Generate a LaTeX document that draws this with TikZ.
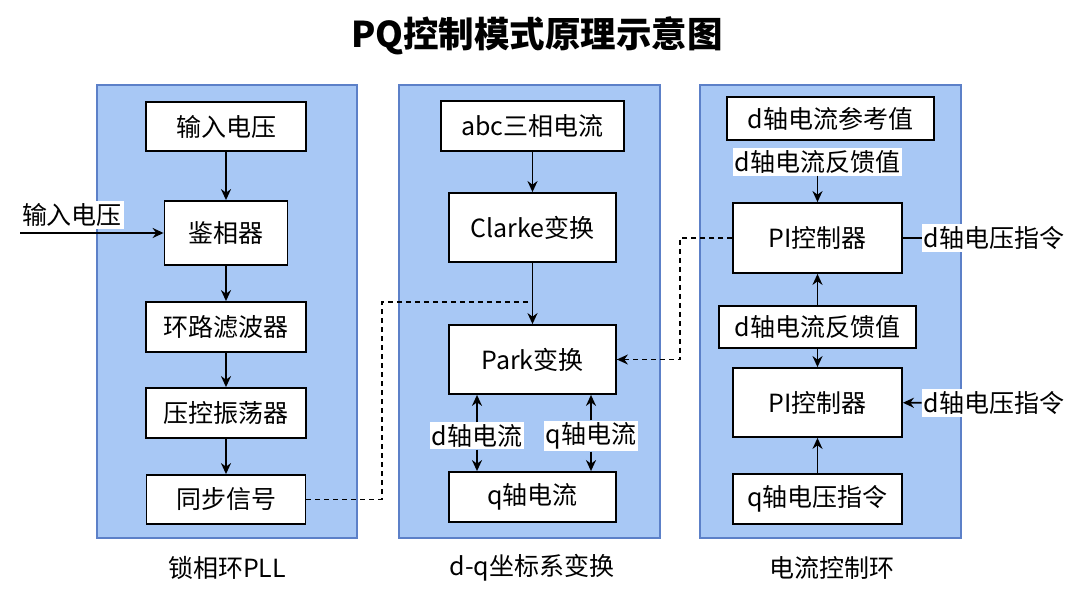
\documentclass[tikz,border=0pt]{standalone}
\usepackage{fontspec}
\setmainfont{Noto Sans CJK SC}
\usetikzlibrary{arrows.meta}
\definecolor{panelfill}{RGB}{168,200,245}
\definecolor{panelline}{RGB}{92,128,200}
\begin{document}
\begin{tikzpicture}[x=1pt,y=-1pt,
  panel/.style={draw=panelline,line width=1.8pt,fill=panelfill},
  blk/.style={draw=black,line width=1.8pt,fill=white,font=\fontsize{25}{28}\selectfont,inner sep=0pt},
  lbl/.style={fill=white,font=\fontsize{25}{28}\selectfont,inner sep=2pt},
  plbl/.style={font=\fontsize{25}{28}\selectfont},
  arr/.style={line width=1.8pt,-{Stealth[length=11pt,width=10pt]}},
  ln/.style={line width=1.8pt},
  dsh/.style={line width=1.5pt,dash pattern=on 5pt off 4pt}]
\useasboundingbox (0,0) rectangle (1080,593);
\fill[white] (0,0) rectangle (1080,593);
% title
\node[font=\fontsize{35.5}{40}\selectfont\bfseries] (title) at (537,36) {PQ控制模式原理示意图};
% panels
\draw[panel] (97,85) rectangle (357,538);
\draw[panel] (399,85) rectangle (660,538);
\draw[panel] (700,85) rectangle (961,538);
\node[plbl] (pl1) at (227,568) {锁相环PLL};
\node[plbl] (pl2) at (532,568) {d-q坐标系变换};
\node[plbl] (pl3) at (832,568) {电流控制环};
% panel 1
\node[blk,minimum width=160pt,minimum height=49pt] (a1) at (226,126.5) {输入电压};
\node[blk,minimum width=123pt,minimum height=64pt] (a2) at (226,233) {鉴相器};
\node[blk,minimum width=160pt,minimum height=50pt] (a3) at (226,327) {环路滤波器};
\node[blk,minimum width=160pt,minimum height=50pt] (a4) at (226,413) {压控振荡器};
\node[blk,minimum width=159pt,minimum height=49pt] (a5) at (226,499.5) {同步信号};
\node[lbl] (inl) at (72,215) {输入电压};
\coordinate (in) at (20,233);
\draw[arr] (a1) -- (a2);
\draw[arr] (a2) -- (a3);
\draw[arr] (a3) -- (a4);
\draw[arr] (a4) -- (a5);
\draw[arr] (in) -- (a2);
% panel 2
\node[blk,minimum width=183pt,minimum height=50pt] (b1) at (532.5,126) {abc三相电流};
\node[blk,minimum width=167pt,minimum height=69pt] (b2) at (532.5,227.5) {Clarke变换};
\node[blk,minimum width=167pt,minimum height=69pt] (b3) at (532.5,359.5) {Park变换};
\node[blk,minimum width=167pt,minimum height=50pt] (b4) at (532.5,497) {q轴电流};
\draw[arr] (b1) -- (b2);
\draw[arr] (b2) -- (b3);
\node[lbl] (dl) at (477,436) {d轴电流};
\node[lbl] (ql) at (591,436) {q轴电流};
\draw[arr] (dl) -- (dl |- b3.south);
\draw[arr] (dl) -- (dl |- b4.north);
\draw[arr] (ql) -- (ql |- b3.south);
\draw[arr] (ql) -- (ql |- b4.north);
% panel 3
\node[blk,minimum width=207pt,minimum height=43pt] (c1) at (830.5,118.5) {d轴电流参考值};
\node[lbl] (c2) at (817.5,162) {d轴电流反馈值};
\node[blk,minimum width=169pt,minimum height=70pt] (c3) at (817.5,238) {PI控制器};
\node[blk,minimum width=197pt,minimum height=42pt] (c4) at (817.5,327) {d轴电流反馈值};
\node[blk,minimum width=169pt,minimum height=69pt] (c5) at (817.5,402.5) {PI控制器};
\node[blk,minimum width=169pt,minimum height=50pt] (c6) at (817.5,499) {q轴电压指令};
\node[lbl] (v1) at (994,238) {d轴电压指令};
\node[lbl] (v2) at (994,403) {d轴电压指令};
\draw[arr] (c2) -- (c3);
\draw[ln] (c3) -- (v1);
\draw[arr] (c4) -- (c3);
\draw[arr] (c4) -- (c5);
\draw[arr] (v2) -- (c5);
\draw[arr] (c6) -- (c5);
% dashed links
\coordinate (j1) at (382,302);
\coordinate (j2) at (532.5,302);
\draw[dsh] (a5.east) -| (j1) -- (j2);
\coordinate (k1) at (680,238);
\draw[dsh] (c3.west) -- (k1) |- (b3.east);
\draw[arr,line width=1.5pt] ([xshift=6pt]b3.east) -- (b3.east);
\end{tikzpicture}
\end{document}
